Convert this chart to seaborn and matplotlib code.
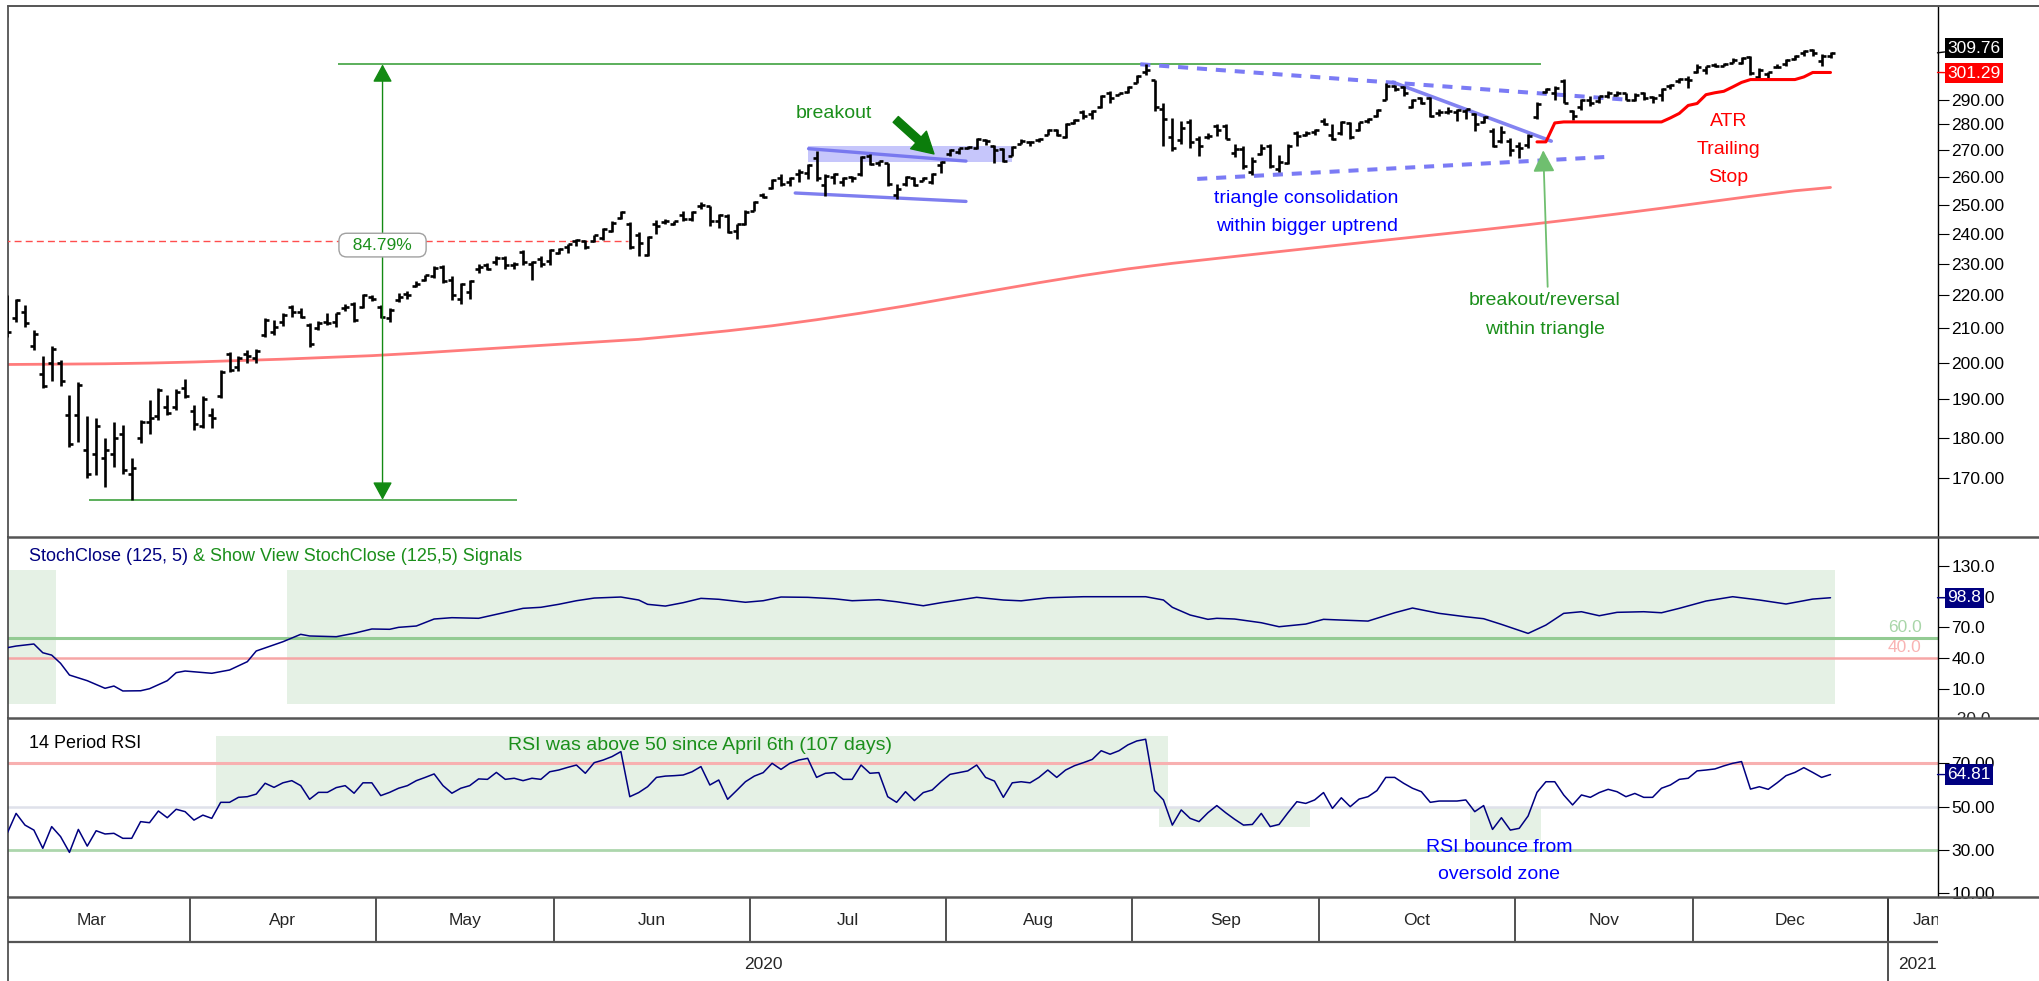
import numpy as np
import pandas as pd
import matplotlib
matplotlib.use("Agg")
import matplotlib.pyplot as plt
from matplotlib.lines import Line2D
from matplotlib.patches import Rectangle
from matplotlib.transforms import Bbox, TransformedBbox
from matplotlib.ticker import FuncFormatter, NullLocator
import seaborn as sns

# ---------------- data ----------------
first_day, last_day = "2020-03-03", "2020-12-22"
holidays = ["2020-01-01", "2020-01-20", "2020-02-17", "2020-04-10", "2020-05-25",
            "2020-07-03", "2020-09-07", "2020-11-26", "2020-12-25", "2021-01-01",
            "2021-01-18", "2021-02-15"]

opens = [
    218, 213, 215, 205, 197, 200, 200, 186, 186, 177, 176, 175, 176, 181, 171, 180, 184, 185.5, 188, 188, 193,  # Mar
    187, 183, 186, 191, 202.5, 199, 202.5, 201.5, 208, 209, 212, 216.5, 215, 211, 210, 212, 212, 216, 217.5, 216.5, 219.5,  # Apr
    216.5, 213, 218.5, 220.5, 223, 225, 226, 229, 225, 219, 221, 228.5, 229.5, 230.5, 232, 229.5, 234, 230, 231.5, 231,  # May
    233.5, 235.5, 237.5, 237.5, 237.5, 238.5, 241, 245.5, 243.5, 239.5, 233, 243.5, 244, 243.5, 246.5, 245, 249.5, 249.5, 244.5, 246, 241, 243.5,  # Jun
    248, 253.5, 256, 259.5, 258, 261, 261.5, 267, 257, 260, 258, 260, 261, 268, 265, 265, 253.5, 257.5, 259.5, 258.6, 258, 264.5,  # Jul
    268.5, 269.5, 271, 271, 274, 271.5, 270.5, 268, 272.5, 273, 274, 276, 278, 275, 280.5, 285, 284, 287, 292.5, 292, 293,  # Aug
    297, 301.5, 298, 286, 275, 274, 281, 274.5, 275, 279.5, 279.5, 269, 270.5, 262, 268.5, 271.5, 263, 265, 276.5, 276, 277,  # Sep
    281.5, 276, 276.5, 280.5, 278, 281.5, 283.5, 290, 295.5, 295, 287, 290.5, 290.5, 284.5, 285, 285, 285.5, 284, 281, 277.5, 273.5, 273.5,  # Oct
    271.5, 272, 283, 293, 292.5, 297.5, 285.5, 287, 290, 289.5, 291.5, 292, 292.6, 290, 292.6, 291, 292, 295.5, 297.5, 298.5,  # Nov
    301.5, 302.5, 304.5, 304.2, 305.5, 305.5, 307.8, 299.5, 300.5, 303.5, 305, 307, 309.5, 311, 306, 308.5,  # Dec
]
highs = [
    220.3, 219, 217, 209.6, 202, 205, 201, 191.2, 194.6, 185.5, 185, 180, 184, 183.4, 175, 184.6, 189.9, 193, 191.2, 192.8, 195.6,
    188.6, 190.8, 187.8, 198, 203.2, 202, 203.6, 204, 213, 212.6, 214.6, 217, 216.3, 211.6, 212.3, 214.6, 214.6, 217.3, 218, 220.5, 220.3,
    217, 216, 220.8, 221.5, 224.4, 226.6, 229.2, 229.6, 226, 224, 225, 230, 230.4, 232.5, 232.5, 230.5, 234.6, 231, 232.5, 235,
    235.2, 236.6, 238.4, 237.8, 239.6, 242, 244.3, 248, 244, 240.7, 239.3, 244.6, 245.2, 244.5, 247.7, 247.7, 251, 249.5, 246.8, 246.8, 243.5, 248.3,
    251.5, 254.3, 259.3, 261.1, 260, 262.9, 264.8, 269.7, 261, 261.5, 260, 260.5, 268, 268.6, 266, 265.2, 257.5, 260.5, 260, 260, 261.5, 265.8,
    270.4, 271, 271.6, 274.8, 274.2, 272, 271, 271.5, 274.4, 273.5, 274.8, 278.3, 278.3, 280.5, 282, 285.6, 285.6, 292, 293.4, 292.8, 295.5,
    300.3, 304.77, 298.3, 288.6, 282.7, 281.3, 282, 275.5, 276.8, 280, 280, 272.2, 271.5, 267.6, 272.5, 272.2, 268.2, 272.2, 277.6, 277.6, 278.4,
    282.7, 280, 281.3, 281, 281, 282.7, 286, 297, 296.2, 295.5, 290.3, 291, 291, 286, 287, 286.3, 286.3, 284.7, 283.5, 278.5, 279.2, 274.6,
    273.2, 276.4, 288.9, 294.8, 295.5, 298.5, 285.9, 290.3, 291.6, 291.6, 293.4, 293.4, 292.8, 292.8, 293, 291.6, 294.8, 296.6, 298.9, 299.6,
    304.9, 304, 305.2, 305.2, 307.3, 308, 308.3, 303.1, 301.7, 304.9, 306.9, 308.7, 311.2, 311.5, 309.4, 310,
]
lows = [
    207.6, 212, 210.5, 203.8, 193, 195, 193.6, 177.7, 178.9, 170.1, 170.8, 168, 172.7, 171, 164.93, 178.8, 181, 184.6, 185.8, 187.1, 190.5,
    182.1, 182.4, 182.4, 190.3, 197.4, 197.7, 200, 200, 207.4, 208, 210.7, 213.3, 213.1, 204.5, 209.4, 211, 210.3, 215.2, 212, 216, 218.4,
    213, 212, 218, 219, 222.5, 224.4, 225.6, 224, 218.6, 217.5, 219, 227, 228, 229.7, 228.5, 228.5, 229.7, 224.8, 229, 229.7,
    233.1, 233.7, 236, 234.9, 237.2, 237.8, 240.7, 245, 234.9, 232.5, 232.5, 239.8, 243.5, 243, 244.2, 244.5, 248.6, 242.6, 242, 240.2, 238.2, 243,
    247.7, 252.3, 255.7, 256.9, 256.9, 258, 259.3, 258.7, 253.3, 257.5, 256.7, 258, 260.5, 264.3, 264, 256.9, 252.1, 256.9, 256.9, 258.5, 257.5, 261.3,
    268, 268.6, 270.4, 270.4, 272, 265, 265.6, 267.7, 272.3, 271.5, 273.2, 275.7, 275.6, 274.8, 280, 282.2, 282, 286.6, 288.6, 291.7, 292.8,
    296.8, 300.3, 285.3, 271.6, 269.7, 272.5, 271, 267.7, 274.2, 275.5, 274.2, 267.3, 262.9, 260.6, 268.2, 263.5, 261.9, 264.8, 271.6, 275.5, 276,
    279.7, 274, 276, 274.4, 277.6, 280.5, 283, 289.7, 293.4, 291.4, 286.6, 288, 283, 283.5, 284, 281.3, 282, 277.4, 280.6, 271.3, 272.6, 267.8,
    267.2, 271, 282.2, 292.5, 290, 288.4, 281.6, 285.9, 287.5, 288.5, 290.7, 291.4, 289.7, 289.4, 290, 288.6, 289.3, 294.4, 296.9, 294.8,
    301.2, 300.7, 303.8, 304, 305.2, 304.9, 300.3, 298.9, 298.9, 303.1, 304, 306.6, 308.5, 308.5, 304, 307.3,
]
closes = [
    209, 218.5, 211.5, 208.5, 193.5, 204, 195, 178.5, 194, 171, 183, 177, 180, 172, 172.5, 184, 185, 192.5, 186.5, 192, 191,
    183.5, 190, 185, 197.5, 198, 201.5, 202, 203.5, 212.5, 210.5, 214, 215, 213.5, 205.5, 211.5, 211.5, 214.5, 216.5, 212.5, 220, 219,
    213.5, 215.5, 219.5, 220, 223.5, 226.5, 228.8, 224.5, 220, 223.5, 224.5, 229, 228.5, 232, 229.5, 230, 230.5, 230.5, 230, 234.5,
    235, 236.5, 238, 235.5, 239.5, 241.5, 243.8, 247.5, 235.5, 237, 239, 242.5, 244.5, 244.2, 245, 247.5, 250, 244.5, 246.5, 240.5, 243.3, 247.6,
    251, 252.8, 259, 257.5, 259.8, 262, 264.5, 259.5, 260.5, 261, 259.5, 259.5, 267.5, 264.8, 265.8, 257.5, 255.5, 260, 257.2, 259.8, 261, 265.5,
    270, 270.8, 271.3, 274.5, 273.4, 270, 266, 271.2, 273.5, 273, 274.5, 278, 276, 280.2, 281.8, 283.5, 285.2, 291.5, 290.5, 292.5, 295,
    300, 302.5, 287, 282, 271, 278.5, 273, 271.5, 275.5, 278, 274.5, 270.5, 264, 266, 271, 264, 265.5, 271.5, 275.5, 276.5, 277.8,
    280, 274.5, 281, 275.2, 280.8, 282.3, 285.8, 295.5, 294.5, 292.5, 290, 288.5, 283.5, 285, 285.5, 285.8, 286, 280.2, 282.8, 271.8, 277, 270,
    270.8, 275.5, 288, 294.2, 294.8, 288.8, 283.2, 289.8, 288.5, 291.3, 292.6, 292.5, 290, 292, 290.5, 290.5, 294.3, 296, 298.5, 298,
    303.5, 304, 304, 305, 306.5, 307.5, 301, 302.5, 301.5, 303.8, 306.5, 308.5, 310.5, 309.5, 308.5, 309.76,
]
rsi = [
    37.7, 46.9, 41.5, 39.2, 30.8, 40.8, 36.2, 28.9, 39.5, 31.8, 38.9, 37.4, 37.7, 35.4, 35.4, 43.1, 42.6, 48.0, 44.9, 48.8, 47.7,
    43.8, 46.1, 44.6, 52.0, 52.0, 54.3, 54.6, 55.8, 60.8, 58.9, 61.0, 62.0, 59.7, 53.4, 56.6, 56.6, 58.8, 59.7, 56.2, 61.0, 61.0,
    55.1, 56.6, 58.5, 59.7, 62.0, 63.5, 65.1, 59.7, 56.2, 58.5, 59.7, 62.8, 62.6, 65.8, 62.6, 63.1, 62.0, 63.1, 62.6, 66.1,
    66.9, 68.1, 69.2, 65.4, 70.3, 71.5, 73.1, 75.4, 54.6, 56.5, 59.2, 63.5, 64.1, 64.3, 64.6, 66.1, 68.5, 60.0, 62.3, 53.4, 57.4, 61.5,
    64.1, 65.7, 70.0, 67.2, 70.0, 71.5, 72.3, 63.5, 65.4, 65.7, 62.6, 62.6, 69.2, 65.4, 65.7, 54.6, 52.0, 56.9, 52.8, 56.5, 57.7, 61.5,
    64.9, 65.7, 66.5, 69.2, 63.5, 61.8, 54.3, 61.0, 61.5, 61.0, 63.5, 66.9, 63.5, 66.9, 68.9, 70.3, 71.8, 75.8, 74.2, 75.8, 78.5,
    80.3, 81.1, 57.4, 53.1, 41.5, 48.5, 44.6, 43.1, 47.2, 50.5, 47.2, 44.2, 41.5, 41.8, 46.9, 40.8, 41.8, 47.2, 52.3, 51.5, 53.1,
    56.5, 49.2, 54.1, 50.0, 53.5, 54.6, 57.4, 63.5, 63.5, 60.8, 58.5, 56.9, 52.0, 52.6, 52.6, 52.6, 53.1, 47.7, 50.5, 39.5, 44.9, 39.2,
    40.0, 45.7, 56.6, 61.5, 61.5, 55.4, 50.8, 55.4, 54.3, 56.5, 58.0, 56.9, 54.6, 56.1, 54.3, 54.3, 58.5, 60.0, 62.6, 63.1,
    66.5, 66.9, 67.4, 68.8, 70.0, 70.8, 58.1, 59.2, 58.0, 61.0, 64.3, 65.8, 68.0, 65.8, 63.5, 64.81,
]
# StochClose (125,5): readings at some bars (bar number counted from the first bar)
stoch_bar = [0, 1, 3, 4, 5, 6, 7, 9, 11, 12, 13, 15, 16, 18, 19, 20, 23, 25, 27, 28, 31, 33, 34, 37, 39, 41,
             43, 44, 46, 48, 50, 53, 56, 58, 60, 62, 64, 66, 69, 71, 72, 74, 76, 78, 80, 83, 85, 87, 90, 93,
             95, 98, 100, 103, 105, 109, 112, 114, 117, 121, 128, 130, 131, 133, 135, 136, 138, 141, 143,
             146, 148, 150, 153, 156, 158, 161, 164, 166, 168, 171, 173, 175, 177, 179, 181, 184, 186, 188,
             191, 194, 197, 200, 203, 205]
stoch_val = [50.2, 51.8, 53.8, 45.3, 43.0, 35.0, 23.6, 18.1, 10.7, 12.9, 8.1, 8.3, 10.3, 18.1, 25.9, 27.5, 25.3,
             28.5, 36.6, 47.0, 56.0, 63.2, 61.6, 60.9, 64.2, 68.4, 68.1, 70.0, 71.3, 78.1, 79.4, 78.8, 84.6,
             88.5, 89.5, 92.4, 95.9, 98.5, 99.5, 96.6, 92.4, 90.7, 94.0, 98.2, 97.3, 94.4, 95.9, 99.5, 99.2,
             97.8, 95.9, 96.9, 94.9, 91.0, 94.0, 99.2, 96.6, 95.8, 98.8, 99.8, 99.8, 96.6, 89.5, 82.0, 77.8,
             78.8, 78.1, 74.5, 70.6, 73.2, 77.8, 77.1, 76.1, 84.2, 88.8, 83.6, 80.3, 78.4, 72.9, 64.1, 72.2,
             83.6, 85.2, 81.3, 84.6, 85.2, 84.2, 88.5, 95.6, 99.8, 96.6, 92.7, 97.5, 98.8]
# 200 day moving average, read every few bars
ma_bar = [0, 6, 11, 16, 21, 26, 31, 36, 41, 46, 51, 56, 61, 66, 71, 76, 81, 86, 91, 96, 101, 106, 111, 116,
          121, 126, 131, 136, 141, 146, 151, 156, 161, 166, 171, 176, 181, 186, 191, 196, 201, 205]
ma_val = [199.6, 199.7, 199.8, 200.0, 200.3, 200.7, 201.1, 201.6, 202.1, 202.8, 203.6, 204.4, 205.2, 206.0,
          206.8, 208.0, 209.3, 210.8, 212.6, 214.6, 216.8, 219.2, 221.6, 224.0, 226.3, 228.4, 230.2, 231.8,
          233.4, 235.0, 236.6, 238.2, 239.8, 241.4, 243.1, 244.9, 246.8, 248.8, 250.9, 253.0, 255.0, 256.2]
# ATR trailing stop from 2020-11-04 to the last bar
atr_stop = [273.2, 273.2, 280.6, 281.0, 281.0, 281.0, 281.0, 281.0, 281.0, 281.0, 281.0, 281.0, 281.0, 281.0,
            281.0, 282.6, 284.4, 287.6, 288.4, 292.0, 292.8, 293.4, 295.2, 297.1, 298.3, 298.3, 298.3, 298.3,
            298.3, 298.3, 299.4, 301.29, 301.29, 301.29]
stoch_on = [("2020-03-03", "2020-03-10"), ("2020-04-17", "2020-12-22")]
rsi_zones = [("2020-04-06", "2020-09-04", 50, 82.6), ("2020-09-04", "2020-09-29", 40.5, 50),
             ("2020-10-26", "2020-11-04", 34.6, 50)]
swing_low_day, swing_high_day = "2020-03-23", "2020-09-02"
prev_high = 237.6

# ---------------- setup ----------------
sns.set_style("white")
plt.rcParams["font.family"] = ["Liberation Sans", "DejaVu Sans"]

cal = pd.bdate_range("2020-01-02", "2021-02-26", freq="C", holidays=holidays)
pos = pd.Series(np.arange(len(cal)) - cal.get_loc(pd.Timestamp("2020-04-01")), index=cal)
dates = pd.bdate_range(first_day, last_day, freq="C", holidays=holidays)
assert len(dates) == len(opens) == len(highs) == len(lows) == len(closes) == len(rsi)

df = pd.DataFrame({"date": dates, "x": pos.loc[dates].values, "open": opens, "high": highs,
                   "low": lows, "close": closes, "rsi": rsi})

def xd(d):
    return pos[pd.Timestamp(d)]

W, H = 2039, 981
L_PX, R_PX = 8, 1937.5
fig = plt.figure(figsize=(W / 100, H / 100), dpi=100)

def panel(top, bottom, **kw):
    return fig.add_axes([L_PX / W, 1 - bottom / H, (R_PX - L_PX) / W, (bottom - top) / H], **kw)

ax = panel(6, 537)
ax_s = panel(537, 718, sharex=ax)
ax_r = panel(718, 897, sharex=ax)
ax_d = panel(897, 981, sharex=ax)
ax.set_xlim(-20.91, 196.03)

GREEN = "#1b8f1b"
NAVY = "#000080"
TICK_FS = 12.5

for a in (ax, ax_s, ax_r, ax_d):
    a.set_facecolor("white")
    for s in ("top", "bottom"):
        a.spines[s].set_visible(False)
    a.spines["left"].set_color("#444444")
    a.spines["left"].set_linewidth(1.2)
    a.spines["right"].set_color("black")
    a.spines["right"].set_linewidth(1.0)
    a.tick_params(axis="x", bottom=False, labelbottom=False)
ax_d.spines["right"].set_visible(False)

def right_ticks(a, ticks, fmt):
    a.yaxis.tick_right()
    a.set_yticks(ticks)
    a.yaxis.set_minor_locator(NullLocator())
    a.yaxis.set_major_formatter(FuncFormatter(lambda v, p: fmt.format(v)))
    a.tick_params(axis="y", which="major", direction="out", length=8, width=0.8, pad=2,
                  labelsize=TICK_FS, colors="black")

def value_box(a, y, text, fc, dy=0):
    a.annotate(text, xy=(1, y), xycoords=("axes fraction", "data"), xytext=(7.0, dy),
               textcoords="offset points", ha="left", va="center", color="white", fontsize=TICK_FS,
               bbox=dict(boxstyle="square,pad=0.15", fc=fc, ec="none"), annotation_clip=False,
               arrowprops=dict(arrowstyle="-", color=fc, lw=1, shrinkA=0, shrinkB=0), zorder=10)

# ---------------- price panel ----------------
ax.set_yscale("log")
ax.set_ylim(156.5, 330.9)
right_ticks(ax, np.arange(170, 300, 10), "{:.2f}")

sns.lineplot(x=df.x.iloc[ma_bar].values, y=ma_val, ax=ax, color="#ff7b7b", linewidth=2.0, zorder=2)
sns.lineplot(x=df.x.iloc[-len(atr_stop):].values, y=atr_stop, ax=ax, color="#ff0000", linewidth=2.2, zorder=5)

ax.vlines(df.x, df.low, df.high, color="black", lw=1.9, zorder=4)
ax.hlines(df.open, df.x - 0.45, df.x, color="black", lw=1.9, zorder=4)
ax.hlines(df.close, df.x, df.x + 0.45, color="black", lw=1.9, zorder=4)

lo = df.loc[df.date == swing_low_day, "low"].iloc[0]
hi = df.loc[df.date == swing_high_day, "high"].iloc[0]
ax.hlines(hi, 16.2, 151.4, color="#2f9a2f", lw=1.1, zorder=3)
ax.hlines(lo, -11.8, 36.3, color="#2f9a2f", lw=1.1, zorder=3)
ax.annotate("", xy=(21.2, hi), xytext=(21.2, lo),
            arrowprops=dict(arrowstyle="<|-|>,head_length=0.55,head_width=0.3", color="#138a13",
                            lw=1.0, shrinkA=0, shrinkB=0, mutation_scale=20), zorder=6)
ax.hlines(prev_high, -21.5, 48.8, color="#ff4d4d", lw=1.0, linestyles=(0, (5, 3)), zorder=3)
ax.text(21.2, 236.2, f"  {(hi / lo - 1) * 100:.2f}%  ", ha="center", va="center", color=GREEN,
        fontsize=12.5, zorder=7,
        bbox=dict(boxstyle="round,pad=0.25,rounding_size=0.45", fc="white", ec="#a0a0a0", lw=1))

# consolidation flag
ax.add_patch(Rectangle((69.0, 265.7), 23.0, 5.8, fc="#c6c6fb", ec="none", zorder=1))
ax.plot([69.1, 86.8], [270.6, 265.9], color="#7070ee", lw=2.4, alpha=0.9, zorder=3)
ax.plot([67.6, 86.8], [254.2, 251.2], color="#7070ee", lw=2.4, alpha=0.9, zorder=3)
ax.annotate("", xy=(83.2, 268.6), xytext=(78.9, 282.0),
            arrowprops=dict(arrowstyle="simple,head_length=0.75,head_width=0.85,tail_width=0.28",
                            color="#0b7d0b", mutation_scale=20, shrinkA=0, shrinkB=0), zorder=6)
ax.text(71.9, 284.4, "breakout", ha="center", va="center", color=GREEN, fontsize=14)

# triangle
ax.plot([106.4, 160.9], [304.8, 290.0], color="#7b7bf5", lw=2.9, ls=(0, (2.5, 2.2)), zorder=3)
ax.plot([112.8, 159.0], [259.3, 267.5], color="#7b7bf5", lw=2.9, ls=(0, (2.5, 2.2)), zorder=3)
ax.plot([134.8, 152.6], [297.2, 273.5], color="#7676f0", lw=2.6, alpha=0.9, zorder=3)
ax.text(125.1, 252.1, "triangle consolidation", ha="center", va="center", color="#0000ff", fontsize=14)
ax.text(125.1, 242.5, "within bigger uptrend", ha="center", va="center", color="#0000ff", fontsize=14)
ax.annotate("", xy=(151.7, 270.0), xytext=(152.2, 222.7),
            arrowprops=dict(arrowstyle="-|>,head_length=0.6,head_width=0.3", color="#6fbf6f",
                            lw=1.3, shrinkA=0, shrinkB=0, mutation_scale=22), zorder=6)
ax.text(151.9, 218.4, "breakout/reversal", ha="center", va="center", color=GREEN, fontsize=14)
ax.text(151.9, 209.8, "within triangle", ha="center", va="center", color=GREEN, fontsize=14)
for txt, yv in (("ATR", 281.1), ("Trailing", 270.4), ("Stop", 260.0)):
    ax.text(172.5, yv, txt, ha="center", va="center", color="#ff0000", fontsize=14)

value_box(ax, closes[-1], f"{closes[-1]:.2f}", "black", dy=3.2)
value_box(ax, atr_stop[-1], f"{atr_stop[-1]:.2f}", "#ff0000", dy=-0.5)

# ---------------- stochastic panel ----------------
ax_s.set_ylim(-18.2, 157.9)
right_ticks(ax_s, [10, 40, 70, 100, 130], "{:.1f}")
for d0, d1 in stoch_on:
    ax_s.axvspan(xd(d0) - 0.5, xd(d1) + 0.5, ymin=0.076, ymax=0.818, color="#e5f1e5", lw=0, zorder=0)
ax_s.axhline(60, color="#93cb93", lw=2.2, zorder=1)
ax_s.axhline(40, color="#f6a6a6", lw=1.8, zorder=1)
sns.lineplot(x=df.x.iloc[stoch_bar].values, y=stoch_val, ax=ax_s, color=NAVY, linewidth=1.1, zorder=3)
for lvl, col in ((60, "#a9d6a9"), (40, "#f9b4b4")):
    ax_s.annotate(f"{lvl:.1f}", xy=(1 - 16 / 1929.5, lvl), xycoords=("axes fraction", "data"),
                  xytext=(0, 2), textcoords="offset points", ha="right", va="bottom",
                  color=col, fontsize=12.5)
t1 = ax_s.text(0.0109, 0.891, "StochClose (125, 5)", transform=ax_s.transAxes, color=NAVY,
               fontsize=13, va="center")
ax_s.annotate(" & Show View StochClose (125,5) Signals", xy=(1, 0), xycoords=t1, va="bottom",
              ha="left", color=GREEN, fontsize=13)
# the -20.0 label is cut by the panel below
cut = ax_s.annotate("-20.0", xy=(1, -20), xycoords=("axes fraction", "data"), xytext=(10.1, 0),
                    textcoords="offset points", ha="left", va="center", fontsize=TICK_FS,
                    annotation_clip=False)
cut.set_clip_box(TransformedBbox(Bbox([[R_PX / W, 1 - 718 / H], [1, 1 - 537 / H]]), fig.transFigure))
cut.set_clip_on(True)
value_box(ax_s, stoch_val[-1], f"{stoch_val[-1]:.1f}", NAVY)

# ---------------- RSI panel ----------------
ax_r.set_ylim(8.33, 90.9)
right_ticks(ax_r, [10, 30, 50, 70], "{:.2f}")
for d0, d1, y0, y1 in rsi_zones:
    ax_r.add_patch(Rectangle((xd(d0) - 0.5, y0), xd(d1) - xd(d0) + 1, y1 - y0, fc="#e5f1e5",
                             ec="none", zorder=0))
ax_r.axhline(70, color="#f8b0b0", lw=2.2, zorder=1)
ax_r.axhline(50, color="#dfe1ea", lw=1.8, zorder=1)
ax_r.axhline(30, color="#acd6ac", lw=2.0, zorder=1)
sns.lineplot(data=df, x="x", y="rsi", ax=ax_r, color=NAVY, linewidth=1.1, zorder=3)
ax_r.text(0.0109, 0.858, "14 Period RSI", transform=ax_r.transAxes, color="black", fontsize=13,
          va="center")
ax_r.text(56.9, 78.1, "RSI was above 50 since April 6th (107 days)", ha="center", va="center",
          color=GREEN, fontsize=14)
ax_r.text(146.7, 31.3, "RSI bounce from", ha="center", va="center", color="#0000ff", fontsize=14)
ax_r.text(146.7, 18.5, "oversold zone", ha="center", va="center", color="#0000ff", fontsize=14)
value_box(ax_r, rsi[-1], f"{rsi[-1]:.2f}", NAVY)

for a in (ax, ax_s, ax_r):
    a.set_xlabel("")
    a.set_ylabel("")

# ---------------- date axis ----------------
ax_d.set_ylim(0, 1)
ax_d.set_yticks([])
firsts = pd.Series(cal, index=cal).groupby(cal.to_period("M")).first()
xmax = ax.get_xlim()[1]
for p in pd.period_range("2020-03", "2020-12", freq="M"):
    x0 = pos[firsts[p]] - 0.5
    x1 = pos[firsts[p + 1]] - 0.5
    ax_d.text((x0 + x1) / 2, 0.726, p.strftime("%b"), ha="center", va="center", fontsize=12.5)
    ax_d.vlines(x1, 0.468, 1, color="#333333", lw=1.2)
jan = pos[firsts[pd.Period("2021-01", "M")]] - 0.5
ax_d.vlines(jan, 0, 1, color="#333333", lw=1.2)
ax_d.text((jan + xmax) / 2, 0.726, "Jan", ha="left", va="center", fontsize=12.5, clip_on=True)
ax_d.axhline(0.468, color="#555555", lw=1.6)
y2020 = pos[cal[0]] - 0.5
ax_d.text((y2020 + jan) / 2, 0.202, "2020", ha="center", va="center", fontsize=12.5)
ax_d.text(jan + 1.1, 0.202, "2021", ha="left", va="center", fontsize=12.5, clip_on=True)

# ---------------- panel separators ----------------
for py, lw in ((5.5, 1.4), (537, 1.8), (718, 1.8), (897, 1.8)):
    fig.add_artist(Line2D([L_PX / W, 1], [1 - py / H] * 2, color="#555555", lw=lw))

fig.savefig("out.png", dpi=100)
